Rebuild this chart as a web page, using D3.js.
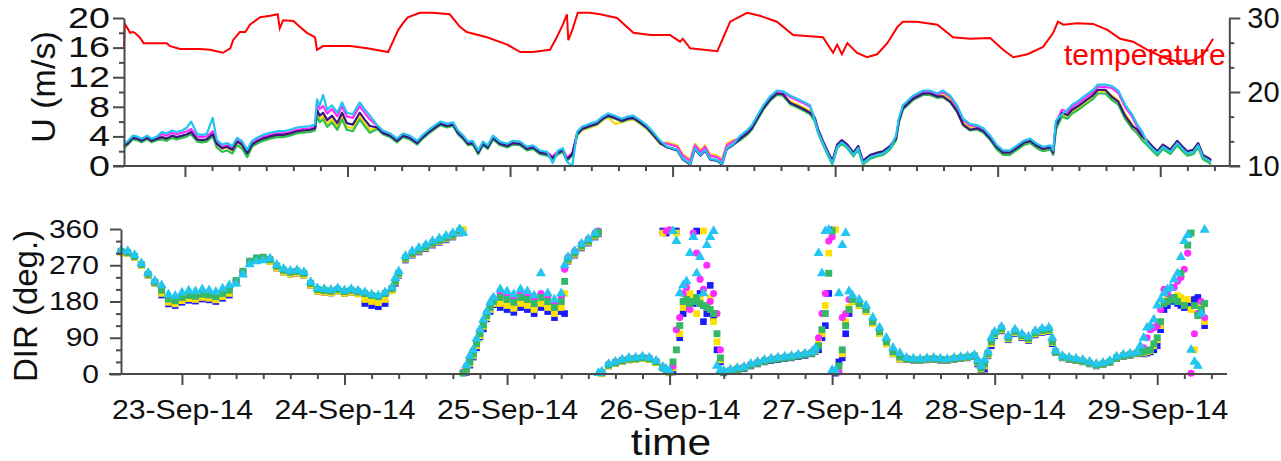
<!DOCTYPE html>
<html>
<head>
<meta charset="utf-8">
<script src="https://cdn.jsdelivr.net/npm/d3@7"></script>
<style>
  html, body { margin: 0; padding: 0; background: #fff; }
  svg { display: block; }
  text { font-family: "Liberation Sans", Arial, sans-serif; fill: #111; }
</style>
</head>
<body>
<svg id="chart" width="1281" height="461"></svg>
<script>
// ---- time labels (hours are counted from 23-Sep-2014 00:00) ----
const dayLabels = ["23-Sep-14", "24-Sep-14", "25-Sep-14", "26-Sep-14", "27-Sep-14", "28-Sep-14", "29-Sep-14"];

// ---- air temperature (right axis, deg C) ----
const tempHours = [-9.0,-8.9,-8.6,-8.1,-7.7,-7.4,-6.7,-6.1,-2.7,-2.2,-0.7,2.2,3.7,5.6,6.7,7.1,8.1,8.9,9.6,11.1,12.6,13.7,14.0,14.5,16.0,17.0,18.0,19.2,19.5,20.4,24.4,26.9,30.0,30.7,31.5,32.2,32.9,34.7,36.6,39.1,40.6,41.6,44.6,47.6,49.5,51.4,53.9,54.9,55.8,56.4,56.6,57.2,58.0,59.8,61.3,63.8,66.2,68.7,71.6,73.1,73.5,74.6,78.6,79.5,80.5,83.0,84.9,87.4,89.8,94.2,95.7,96.3,97.0,97.8,99.2,100.7,102.2,103.7,105.2,106.0,108.1,111.1,113.4,115.9,118.9,120.8,122.3,124.4,126.7,128.2,128.9,129.7,131.7,134.1,136.2,138.1,140.0,142.1,144.4,146.5,148.9,150.3,151.4,151.8];
const tempC = [26.0,29.2,28.8,28.0,28.1,28.0,27.4,26.6,26.6,26.2,25.8,25.8,25.7,25.3,25.9,27.0,28.1,28.1,29.1,30.1,30.3,30.5,28.6,29.7,29.6,28.8,28.0,27.4,25.7,26.2,26.2,25.9,25.4,26.8,28.4,29.3,30.1,30.7,30.7,30.5,28.8,28.1,27.4,26.4,25.4,25.4,25.7,27.4,29.1,30.5,27.0,28.4,30.7,30.7,30.5,30.0,28.0,27.7,27.7,26.8,27.2,25.9,25.5,27.4,29.5,30.7,30.3,29.5,27.7,27.4,25.3,26.4,25.1,26.6,25.3,24.7,25.1,26.6,28.8,29.5,29.5,29.1,27.4,27.2,27.3,25.7,24.7,25.1,26.1,28.0,29.5,29.1,29.3,29.2,28.4,27.2,26.8,25.7,24.7,24.1,24.3,25.0,26.6,27.2];

// ---- wind speed U (m/s) at several levels ----
const uHours = [-9.0,-8.4,-7.7,-7.1,-6.4,-5.6,-4.9,-4.1,-3.4,-2.7,-1.9,-1.2,-0.4,0.3,0.9,1.8,2.5,3.2,4.1,4.7,5.5,6.2,7.0,7.7,8.4,9.2,9.9,10.6,11.5,12.6,13.6,14.5,15.5,16.5,17.4,18.5,19.2,19.5,19.9,20.4,21.0,21.7,22.5,23.2,23.9,24.8,25.8,26.6,27.3,28.4,29.2,30.3,31.3,32.2,33.2,34.3,35.0,35.9,36.9,37.7,38.7,39.6,40.3,41.1,41.8,42.5,43.3,44.0,44.7,45.5,46.5,47.6,48.4,49.5,50.5,51.4,52.4,53.5,54.3,55.1,55.8,56.4,57.2,57.9,58.6,59.8,60.8,61.7,62.5,63.5,64.5,65.4,66.2,67.2,68.2,69.1,70.2,71.2,72.7,73.5,74.6,75.3,76.1,76.8,77.5,78.6,79.3,80.0,80.9,82.0,83.0,83.7,84.5,85.4,86.4,87.4,88.3,89.4,90.4,91.3,92.3,93.0,93.5,94.2,95.0,95.6,96.3,97.0,97.8,98.7,99.4,100.1,101.2,102.2,103.1,104.1,105.0,105.4,106.0,107.5,109.0,110.0,111.1,111.9,113.0,114.0,114.9,115.9,117.0,117.9,118.9,119.9,120.8,121.8,122.9,123.8,124.8,125.8,126.7,127.8,128.2,128.6,129.5,130.3,131.0,131.9,132.9,134.0,134.8,135.9,136.9,137.8,138.8,139.9,140.6,141.3,142.1,142.8,143.6,144.4,145.5,146.5,147.2,148.0,148.9,149.6,150.3,151.1,151.5];
const uCyan = [3.0,3.4,4.1,4.0,3.7,4.1,3.7,4.0,4.6,4.4,4.8,4.6,4.8,5.2,6.0,4.3,4.2,4.3,6.5,3.5,2.9,3.1,2.7,3.8,3.4,2.2,3.4,3.8,4.2,4.5,4.7,4.7,4.9,5.2,5.3,5.4,5.6,9.0,8.2,9.6,7.6,8.2,7.2,8.6,7.2,7.0,8.6,7.6,6.8,5.5,4.8,4.4,3.7,4.4,4.1,3.4,4.1,4.8,5.5,6.0,5.7,5.9,4.8,4.1,3.3,3.4,2.1,3.3,2.8,4.1,3.3,3.0,3.4,3.3,2.6,2.8,2.1,1.9,0.4,2.1,2.4,0.6,0.0,4.6,5.3,5.7,6.0,6.7,7.1,6.8,6.4,6.7,6.8,6.2,5.5,4.6,3.4,2.6,2.2,1.0,0.3,2.4,1.5,2.2,1.0,0.8,0.3,2.4,2.9,4.1,4.8,5.5,6.8,8.2,9.4,10.2,10.1,9.5,9.1,8.7,8.2,6.2,4.6,3.1,1.5,0.4,2.6,3.2,2.6,1.5,2.4,0.4,1.2,1.5,1.7,2.4,4.1,6.4,8.2,9.5,10.2,10.2,9.8,10.2,9.5,8.2,6.4,5.7,5.5,5.1,4.1,2.8,2.1,2.1,2.8,3.4,3.7,3.0,2.6,2.8,2.1,6.1,7.0,7.6,8.3,8.8,9.5,10.2,11.0,11.0,10.8,10.2,8.3,6.9,5.6,4.7,3.1,2.4,1.7,2.6,1.9,3.1,2.4,1.7,1.9,2.8,1.2,0.8,0.5];
const uMagenta = [2.8,3.2,3.9,3.8,3.5,3.9,3.5,3.8,4.3,4.1,4.5,4.3,4.5,4.7,5.0,4.0,3.9,4.0,4.7,3.2,2.6,2.8,2.4,3.5,3.1,1.9,3.1,3.5,3.9,4.2,4.4,4.4,4.6,4.9,5.0,5.1,5.3,8.5,7.7,8.1,7.1,7.7,6.7,8.1,6.7,6.5,8.1,7.1,6.3,5.4,4.7,4.3,3.6,4.3,4.0,3.3,4.0,4.7,5.4,5.9,5.6,5.8,4.7,4.0,3.2,3.3,2.0,3.2,2.7,4.0,3.2,2.9,3.3,3.2,2.5,2.7,2.0,1.8,1.3,2.0,2.3,1.1,1.8,4.4,5.1,5.5,5.8,6.5,6.9,6.6,6.2,6.5,6.6,6.0,5.3,4.4,3.2,3.0,2.6,1.4,0.7,2.8,1.9,2.6,1.4,1.2,0.7,2.8,3.3,3.9,4.6,5.3,6.6,8.0,9.2,10.0,9.9,9.3,8.9,8.5,8.0,6.4,4.8,3.3,1.7,0.6,2.8,3.4,2.8,1.7,2.6,0.6,1.4,1.7,1.9,2.6,3.9,6.2,8.0,9.3,10.0,10.0,9.6,10.0,9.3,8.0,6.2,5.5,5.3,4.9,3.9,2.7,2.0,2.0,2.7,3.3,3.6,2.9,2.5,2.7,2.0,5.8,7.6,7.3,8.0,8.5,9.2,9.9,10.7,10.7,10.5,9.9,8.0,6.6,5.3,4.4,3.3,2.6,1.9,2.8,2.1,3.3,2.6,1.9,2.1,3.0,1.4,1.0,0.7];
const uNavy = [2.7,3.1,3.8,3.7,3.4,3.8,3.4,3.7,3.9,3.7,4.1,3.9,4.1,4.3,4.6,3.6,3.5,3.6,4.3,3.0,2.4,2.6,2.2,3.3,2.9,1.7,2.9,3.3,3.7,4.0,4.2,4.2,4.4,4.7,4.8,4.9,5.1,7.6,6.8,7.2,6.2,6.8,5.8,7.2,5.8,5.6,7.2,6.2,5.4,5.2,4.5,4.1,3.4,4.1,3.8,3.1,3.8,4.5,5.2,5.7,5.4,5.6,4.5,3.8,3.0,3.1,1.8,3.0,2.5,3.8,3.0,2.7,3.1,3.0,2.3,2.5,1.8,1.6,1.1,1.8,2.1,0.9,1.6,4.3,5.0,5.4,5.7,6.4,6.8,6.5,6.1,6.4,6.5,5.9,5.2,4.3,3.1,2.5,2.1,0.9,0.2,2.3,1.4,2.1,0.9,0.7,0.2,2.3,2.8,3.7,4.4,5.1,6.4,7.8,9.0,9.8,9.7,8.5,8.1,7.7,7.2,6.5,4.9,3.4,1.8,0.7,2.9,3.5,2.9,1.8,2.7,0.7,1.5,1.8,2.0,2.7,3.7,6.0,7.8,9.1,9.8,9.8,9.4,9.4,8.7,7.4,5.6,4.9,5.1,4.7,3.7,2.5,1.8,1.8,2.5,3.1,3.4,2.7,2.3,2.5,1.8,5.4,7.2,6.9,7.6,8.1,8.8,9.5,10.3,10.3,9.3,8.7,6.8,5.4,4.9,4.0,3.4,2.7,2.0,2.9,2.2,3.4,2.7,2.0,2.2,3.1,1.5,1.1,0.8];
const uYellow = [2.6,3.0,3.7,3.6,3.3,3.7,3.3,3.6,3.8,3.6,4.0,3.8,4.0,4.2,4.5,3.5,3.4,3.5,4.2,2.9,2.3,2.5,2.1,3.2,2.8,1.6,2.8,3.2,3.6,3.9,4.1,4.1,4.3,4.6,4.7,4.8,5.0,7.1,6.3,6.7,5.7,6.3,5.3,6.7,5.3,5.1,6.7,5.7,4.9,5.1,4.4,4.0,3.3,4.0,3.7,3.0,3.7,4.4,5.1,5.6,5.3,5.5,4.4,3.7,2.9,3.0,1.7,2.9,2.4,3.7,2.9,2.6,3.0,2.9,2.2,2.4,1.7,1.5,1.0,1.7,2.0,0.8,1.5,4.1,4.8,5.2,5.5,6.2,6.6,5.7,5.9,6.2,6.3,5.7,5.0,4.1,2.9,3.2,2.8,1.6,0.9,3.0,2.1,2.8,1.6,1.4,0.9,3.0,3.5,3.6,4.3,5.0,6.3,7.7,8.9,9.7,9.6,8.7,8.3,7.9,7.4,6.3,4.7,3.2,1.6,0.5,2.7,3.3,2.7,1.6,2.5,0.5,1.3,1.6,1.8,2.5,3.6,5.9,7.7,9.0,9.7,9.7,9.3,9.7,9.0,7.7,5.9,5.2,5.0,4.6,3.6,2.3,1.6,1.6,2.3,2.9,3.2,2.5,2.1,2.3,1.6,5.2,7.0,6.7,7.4,7.9,8.6,9.3,10.1,10.1,9.5,8.9,7.0,5.6,4.7,3.8,3.3,2.6,1.9,2.8,2.1,3.3,2.6,1.9,2.1,3.0,1.4,1.0,0.7];
const uGreen = [2.5,2.9,3.6,3.5,3.2,3.6,3.2,3.5,3.6,3.4,3.8,3.6,3.8,4.0,4.3,3.3,3.2,3.3,4.0,2.5,1.9,2.1,1.7,2.8,2.4,1.2,2.6,3.0,3.4,3.7,3.9,3.9,4.1,4.4,4.5,4.6,4.8,6.7,5.9,6.3,5.3,5.9,4.9,6.3,4.9,4.7,6.3,5.3,4.5,5.0,4.3,3.9,3.2,3.9,3.6,2.9,3.6,4.3,5.0,5.5,5.2,5.4,4.3,3.6,2.8,2.9,1.6,2.8,2.3,3.6,2.8,2.5,2.9,2.8,2.1,2.3,1.6,1.4,0.9,1.6,1.9,0.7,1.4,4.2,4.9,5.3,5.6,6.3,6.7,6.4,6.0,6.3,6.4,5.8,5.1,4.2,3.0,2.6,2.2,1.0,0.3,2.4,1.5,2.2,1.0,0.8,0.3,2.4,2.9,3.5,4.2,4.9,6.2,7.6,8.8,9.6,9.5,8.3,7.9,7.5,7.0,6.0,4.4,2.9,1.3,0.2,2.4,3.0,2.4,1.3,2.2,0.2,1.0,1.3,1.5,2.2,3.5,5.8,7.6,8.9,9.6,9.6,9.2,9.3,8.6,7.3,5.5,4.8,4.9,4.5,3.5,2.2,1.5,1.5,2.2,2.8,3.1,2.4,2.0,2.2,1.5,4.9,6.7,6.4,7.1,7.6,8.3,9.0,9.8,9.8,8.9,8.3,6.4,5.0,4.4,3.5,2.8,2.1,1.4,2.3,1.6,2.8,2.1,1.4,1.6,2.5,0.9,0.5,0.2];

// ---- wind direction (deg), hourly, from 22-Sep 15:00 ----
const dirHours = d3.range(-9, 152);
const dirBlue = [301,299,289,269,245,225,196,174,170,178,183,181,186,184,180,188,196,227,250,275,283,285,279,263,253,248,250,245,220,205,203,201,205,200,203,199,175,170,167,175,207,245,283,295,303,311,320,327,333,340,350,4,42,92,137,172,165,160,153,165,160,150,165,155,140,155,280,295,313,325,340,1,20,26,31,35,36,38,36,28,355,3,355,150,190,355,130,220,60,3,6,10,13,20,25,30,33,36,38,40,43,46,50,60,120,358,30,100,180,170,155,125,100,75,50,37,36,34,33,35,36,34,33,36,38,40,43,10,45,95,107,85,100,90,83,97,103,105,53,40,36,33,30,25,20,23,28,38,43,46,50,50,55,70,160,185,175,165,180,190,120];
const dirYellow = [301,299,289,269,245,225,200,178,174,182,187,185,190,188,184,192,200,227,250,275,283,285,279,263,253,248,250,245,220,205,203,201,205,200,203,199,185,180,177,185,207,247,285,297,305,313,322,329,335,342,352,7,45,95,140,175,175,170,163,175,170,160,175,165,150,165,282,297,315,327,342,1,20,26,31,35,36,38,36,28,350,3,350,165,200,150,355,190,80,5,8,12,15,22,27,32,35,38,40,42,45,48,52,80,170,350,10,130,180,170,155,125,100,75,50,37,37,35,34,36,37,35,34,37,39,41,44,12,47,97,109,87,102,92,85,99,105,107,54,41,37,34,31,26,21,24,29,39,44,47,51,52,58,85,180,190,195,180,160,150,130];
const dirMagenta = [304,302,292,272,248,228,211,189,185,193,198,196,201,199,195,203,211,232,255,280,288,290,284,268,258,253,255,250,225,210,208,206,210,205,208,204,200,195,192,200,212,250,288,300,308,316,325,332,338,345,355,20,58,108,153,188,200,195,188,200,195,185,200,190,175,190,290,305,323,335,350,5,24,30,35,39,40,42,40,32,17,358,110,200,160,300,210,180,150,7,10,14,17,24,29,34,37,40,42,44,47,50,54,90,200,340,5,150,190,180,165,135,110,85,60,47,38,36,35,37,38,36,35,38,40,42,45,18,53,103,115,93,108,98,91,105,111,113,56,43,39,36,33,28,23,26,31,41,46,49,53,65,110,120,210,190,230,260,2,150,140];
const dirGreen = [304,302,292,272,248,228,208,186,182,190,195,193,198,196,192,200,208,232,255,280,288,290,284,268,258,253,255,250,225,210,208,206,210,205,208,204,200,195,192,200,212,250,288,300,308,316,325,332,338,345,355,12,50,100,145,180,190,185,178,190,185,175,190,180,165,180,285,300,318,330,345,3,22,28,33,37,38,40,38,30,15,5,60,180,175,190,170,160,100,5,8,12,15,22,27,32,35,38,40,42,45,48,52,70,150,355,20,120,185,175,160,130,105,80,55,42,38,36,35,37,38,36,35,38,40,42,45,15,50,100,112,90,105,95,88,102,108,110,55,42,38,35,32,27,22,25,30,40,45,48,52,55,60,90,175,184,180,170,350,145,175,130];
const dirCyan = [307,305,295,275,251,231,220,198,194,202,207,205,210,208,204,212,220,224,247,272,280,282,287,271,261,256,258,253,228,213,211,209,213,208,211,207,203,198,195,203,215,255,293,305,313,321,330,337,343,350,360,22,60,110,155,190,210,205,198,210,205,195,250,200,185,200,290,305,323,335,350,6,25,31,36,40,41,43,41,33,18,8,330,220,300,250,200,340,20,8,11,15,18,25,30,35,38,41,43,45,48,51,55,300,355,10,200,350,195,185,170,140,115,90,65,52,40,38,37,39,40,38,37,40,42,44,47,20,55,105,117,95,110,100,93,107,113,115,58,45,41,38,35,30,25,28,33,43,48,51,55,90,120,170,200,215,250,330,60,20,358];

// ---- extra half-hour readings where the direction changes fast ----
const dirHalfHours = [31.5,41.5,42.5,43.5,44.5,45.5,56.5,61.5,71.5,72.5,73.5,74.5,75.5,76.5,77.5,78.5,79.5,93.5,94.5,95.5,96.5,97.5,98.5,117.5,118.5,119.5,128.5,141.5,142.5,143.5,144.5,145.5,146.5,147.5,148.5,149.5,150.5];
const dirHalfBlue = [225,356,22,65,112,155,150,348,350,5,90,165,175,200,150,140,30,56,90,200,2,40,150,25,12,70,75,52,52,60,110,170,180,170,175,185,150];
const dirHalfYellow = [228,359,26,70,118,160,200,350,8,15,100,180,190,185,170,130,35,58,100,300,358,50,165,28,20,75,78,53,55,70,120,185,188,190,185,60,170];
const dirHalfMagenta = [232,5,38,82,130,172,260,355,355,20,140,215,350,235,270,200,60,62,150,330,10,140,185,32,30,85,85,58,90,115,160,200,215,240,300,100,180];
const dirHalfGreen = [230,2,30,75,122,165,230,352,10,30,120,185,180,175,165,150,40,60,110,250,5,60,160,30,25,80,80,54,58,75,130,180,190,250,320,170,160];
const dirHalfCyan = [238,350,45,88,135,178,270,2,12,355,200,230,340,290,320,355,10,64,250,358,8,320,205,35,35,90,90,70,115,135,185,210,235,290,345,30,150];

// ---- helpers ----
const base = new Date(2014, 8, 23, 0, 0, 0);
const at = h => new Date(base.getTime() + h * 3600e3);
const AXIS = "#4a4a4a";

const svg = d3.select("#chart");
svg.append("rect").attr("width", 1281).attr("height", 461).attr("fill", "#fff");

const xDomain = [at(-9), at(154.2)];
const xTop = d3.scaleTime().domain(xDomain).range([124, 1229.3]);
const xBot = d3.scaleTime().domain(xDomain).range([121, 1226.3]);
const yU = d3.scaleLinear().domain([0, 20]).range([166, 18]);
const yT = d3.scaleLinear().domain([10, 30]).range([166, 18]);
const yD = d3.scaleLinear().domain([0, 360]).range([374, 229]);

const dayTicks = dayLabels.map((_, i) => at(i * 24));
const hourTicks = d3.range(4, 153, 4).filter(h => h % 24 !== 0).map(at);

// stretch a text horizontally around its own anchor
function widen(sel, s) {
  sel.each(function () {
    const t = d3.select(this);
    const x = +t.attr("x") || 0;
    t.attr("transform", `translate(${x},0) scale(${s},1) translate(${-x},0)`);
  });
}
function styleAxis(g, fontSize, stretch) {
  g.select(".domain").attr("stroke", AXIS).attr("stroke-width", 2);
  g.selectAll(".tick line").attr("stroke", AXIS).attr("stroke-width", 2);
  g.selectAll("text").attr("font-size", fontSize).attr("fill", "#111")
    .attr("font-family", '"Liberation Sans", Arial, sans-serif');
  if (stretch) widen(g.selectAll("text"), stretch);
}

// ================= upper panel =================
const gTop = svg.append("g");

// wind speed lines, one per level
const uLine = arr => d3.line()
  .defined((d, i) => arr[i] != null)
  .x((d) => xTop(at(d)))
  .y((d, i) => yU(arr[i]));
const uSeries = [
  { v: uYellow, c: "#f5d800" },
  { v: uGreen, c: "#2fbf4f" },
  { v: uMagenta, c: "#ff2bff" },
  { v: uNavy, c: "#3a1580" },
  { v: uCyan, c: "#20c4ef" }
];
uSeries.forEach(s => {
  gTop.append("path")
    .attr("d", uLine(s.v)(uHours))
    .attr("fill", "none").attr("stroke", s.c)
    .attr("stroke-width", 2.2).attr("stroke-linejoin", "round");
});

// temperature
gTop.append("path")
  .attr("d", d3.line().x((d) => xTop(at(d))).y((d, i) => yT(tempC[i]))(tempHours))
  .attr("fill", "none").attr("stroke", "#ff0000").attr("stroke-width", 2);

gTop.append("text").attr("x", 1064).attr("y", 65)
  .attr("font-family", '"Open Sans", sans-serif').attr("font-size", 30)
  .style("fill", "#ff0000").text("temperature");

// x axis of the upper panel
gTop.append("line").attr("x1", 113).attr("x2", 1240).attr("y1", 166).attr("y2", 166)
  .attr("stroke", AXIS).attr("stroke-width", 2);
gTop.append("g").attr("transform", "translate(0,166)")
  .call(d3.axisBottom(xTop).tickValues(dayTicks).tickSize(11).tickSizeOuter(0).tickFormat(""))
  .call(g => { g.select(".domain").remove(); styleAxis(g, 0); });
gTop.append("g").attr("transform", "translate(0,166)")
  .call(d3.axisBottom(xTop).tickValues(hourTicks).tickSize(5).tickSizeOuter(0).tickFormat(""))
  .call(g => { g.select(".domain").remove(); styleAxis(g, 0); });

// left axis U
gTop.append("g").attr("transform", "translate(124,0)")
  .call(d3.axisLeft(yU).tickValues([0, 4, 8, 12, 16, 20]).tickSize(11).tickPadding(3).tickSizeOuter(0))
  .call(g => styleAxis(g, 29, 1.3));
gTop.append("g").attr("transform", "translate(124,0)")
  .call(d3.axisLeft(yU).tickValues([2, 6, 10, 14, 18]).tickSize(5).tickSizeOuter(0).tickFormat(""))
  .call(g => { g.select(".domain").remove(); styleAxis(g, 0); });

// right axis temperature
gTop.append("g").attr("transform", "translate(1229.3,0)")
  .call(d3.axisRight(yT).tickValues([10, 20, 30]).tickSize(11).tickPadding(7).tickSizeOuter(0))
  .call(g => styleAxis(g, 29, 0));
gTop.append("g").attr("transform", "translate(1229.3,0)")
  .call(d3.axisRight(yT).tickValues([40 / 3, 50 / 3, 70 / 3, 80 / 3]).tickSize(5).tickSizeOuter(0).tickFormat(""))
  .call(g => { g.select(".domain").remove(); styleAxis(g, 0); });

gTop.append("text").attr("transform", "translate(55,87) rotate(-90)")
  .attr("text-anchor", "middle").attr("font-size", 34).text("U (m/s)");

// ================= lower panel =================
const gBot = svg.append("g");

const dirSeries = [
  { v: dirBlue, h: dirHalfBlue, c: "#1a1aff", sym: d3.symbolSquare, size: 44 },
  { v: dirYellow, h: dirHalfYellow, c: "#ffe100", sym: d3.symbolSquare, size: 44 },
  { v: dirMagenta, h: dirHalfMagenta, c: "#ff2bff", sym: d3.symbolCircle, size: 40 },
  { v: dirGreen, h: dirHalfGreen, c: "#35b866", sym: d3.symbolSquare, size: 48 },
  { v: dirCyan, h: dirHalfCyan, c: "#22c6f0", sym: d3.symbolTriangle, size: 44 }
];
dirSeries.forEach(s => {
  const sym = d3.symbol().type(s.sym).size(s.size);
  const pts = dirHours.map((h, i) => [h, s.v[i]])
    .concat(dirHalfHours.map((h, i) => [h, s.h[i]]))
    .filter(d => d[1] != null);
  gBot.append("g").selectAll("path")
    .data(pts)
    .join("path")
    .attr("transform", d => `translate(${xBot(at(d[0]))},${yD(d[1])})`)
    .attr("d", sym).attr("fill", s.c);
});

// x axis of the lower panel
gBot.append("line").attr("x1", 109).attr("x2", 1227).attr("y1", 374).attr("y2", 374)
  .attr("stroke", AXIS).attr("stroke-width", 2);
gBot.append("g").attr("transform", "translate(0,374)")
  .call(d3.axisBottom(xBot).tickValues(dayTicks).tickSize(11).tickSizeOuter(0)
    .tickFormat((d, i) => dayLabels[i]))
  .call(g => {
    g.select(".domain").remove();
    styleAxis(g, 28, 1.08);
    g.selectAll("text").attr("y", 45).attr("dy", 0);
  });
gBot.append("g").attr("transform", "translate(0,374)")
  .call(d3.axisBottom(xBot).tickValues(hourTicks).tickSize(5).tickSizeOuter(0).tickFormat(""))
  .call(g => { g.select(".domain").remove(); styleAxis(g, 0); });

// left axis direction
gBot.append("g").attr("transform", "translate(121,0)")
  .call(d3.axisLeft(yD).tickValues([0, 90, 180, 270, 360]).tickSize(11).tickPadding(11).tickSizeOuter(0))
  .call(g => styleAxis(g, 25, 1.2));
gBot.append("g").attr("transform", "translate(121,0)")
  .call(d3.axisLeft(yD).tickValues([30, 60, 120, 150, 210, 240, 300, 330]).tickSize(5).tickSizeOuter(0).tickFormat(""))
  .call(g => { g.select(".domain").remove(); styleAxis(g, 0); });

gBot.append("text").attr("transform", "translate(37,306) rotate(-90)")
  .attr("text-anchor", "middle").attr("font-size", 33).text("DIR (deg.)");

gBot.append("text").attr("x", 671).attr("y", 455)
  .attr("text-anchor", "middle").attr("font-size", 37)
  .attr("transform", "translate(671,0) scale(1.15,1) translate(-671,0)")
  .text("time");
</script>
</body>
</html>
